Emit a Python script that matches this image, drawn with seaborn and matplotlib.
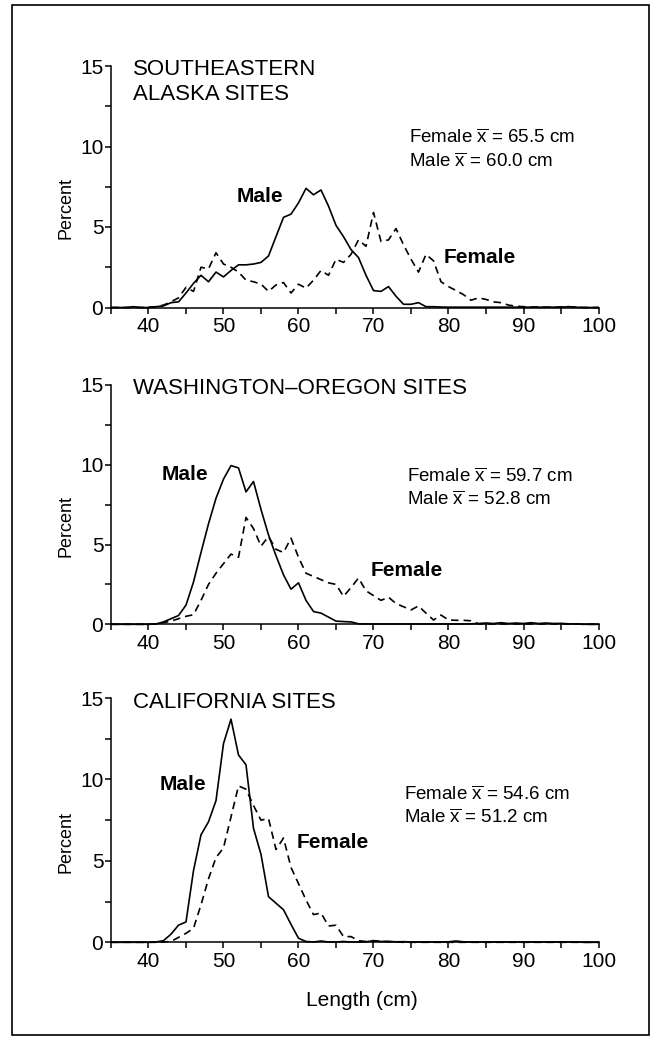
import numpy as np
import pandas as pd
import seaborn as sns
import matplotlib
matplotlib.use("Agg")
import matplotlib.pyplot as plt
from matplotlib.patches import Rectangle

# ---------------- data (percent per 1-cm length class, 35..100 cm) ----------------
lengths_cm = np.arange(35, 101)

se_alaska_male = [
    0, 0, 0, 0.05, 0,
    0, 0.05, 0.1, 0.3, 0.35, 0.9, 1.5, 2.0, 1.6, 2.2,
    1.9, 2.3, 2.65, 2.65, 2.7, 2.8, 3.2, 4.4, 5.6, 5.8,
    6.5, 7.4, 7.0, 7.3, 6.3, 5.1, 4.4, 3.6, 3.1, 2.0,
    1.05, 1.0, 1.3, 0.7, 0.2, 0.2, 0.3, 0.05, 0.05, 0.03,
    0.02, 0.02, 0.02, 0.02, 0.02, 0.02, 0.02, 0.02, 0.02, 0.02,
    0.02, 0.02, 0.02, 0.02, 0.02, 0.02, 0.05, 0.02, 0, 0,
    0]
se_alaska_female = [
    0, 0, 0, 0, 0,
    0.02, 0.05, 0.15, 0.35, 0.6, 1.25, 1.0, 2.5, 2.4, 3.4,
    2.7, 2.5, 2.2, 1.7, 1.6, 1.45, 1.0, 1.4, 1.55, 0.9,
    1.45, 1.2, 1.7, 2.3, 2.0, 3.0, 2.8, 3.3, 4.2, 3.8,
    5.9, 4.1, 4.2, 4.9, 3.9, 3.0, 2.2, 3.3, 2.9, 1.6,
    1.3, 1.05, 0.8, 0.45, 0.6, 0.5, 0.35, 0.3, 0.15, 0.08,
    0.05, 0.03, 0.03, 0.02, 0.02, 0.03, 0.05, 0.02, 0, 0,
    0]

wa_or_male = [
    0, 0, 0, 0, 0,
    0, 0.02, 0.15, 0.35, 0.55, 1.2, 2.65, 4.5, 6.3, 7.9,
    9.1, 9.95, 9.8, 8.3, 8.95, 7.2, 5.6, 4.3, 3.1, 2.2,
    2.6, 1.5, 0.8, 0.7, 0.45, 0.2, 0.17, 0.15, 0.03, 0.02,
    0.02, 0.02, 0.02, 0.02, 0.02, 0.02, 0.02, 0.02, 0.02, 0.02,
    0.02, 0.02, 0.02, 0.03, 0.05, 0.08, 0.05, 0.1, 0.05, 0.08,
    0.05, 0.1, 0.05, 0.08, 0.05, 0.06, 0.03, 0.02, 0, 0,
    0]
wa_or_female = [
    0, 0, 0, 0, 0,
    0, 0.02, 0.1, 0.2, 0.35, 0.5, 0.6, 1.5, 2.5, 3.2,
    3.8, 4.4, 4.2, 6.7, 6.0, 4.9, 5.5, 4.7, 4.5, 5.4,
    4.2, 3.2, 3.0, 2.8, 2.6, 2.5, 1.75, 2.3, 2.9, 2.1,
    1.8, 1.5, 1.7, 1.3, 1.1, 0.9, 1.15, 0.7, 0.27, 0.58,
    0.27, 0.25, 0.25, 0.22, 0.03, 0.02, 0.02, 0.02, 0.02, 0.02,
    0.02, 0.02, 0.02, 0.02, 0.02, 0.02, 0.02, 0.02, 0, 0,
    0]

california_male = [
    0, 0, 0, 0, 0,
    0, 0.02, 0.1, 0.5, 1.05, 1.25, 4.4, 6.6, 7.4, 8.7,
    12.2, 13.7, 11.5, 10.9, 7.0, 5.4, 2.8, 2.4, 2.0, 1.1,
    0.25, 0.05, 0.02, 0.08, 0.02, 0.02, 0.05, 0.02, 0.02, 0.03,
    0.1, 0.05, 0.06, 0.03, 0.04, 0.02, 0.02, 0.02, 0.02, 0.02,
    0.03, 0.08, 0.03, 0.02, 0.02, 0.02, 0.02, 0.02, 0.02, 0.02,
    0.02, 0.02, 0.02, 0.02, 0.02, 0.02, 0.02, 0.02, 0, 0,
    0]
california_female = [
    0, 0, 0, 0, 0,
    0, 0, 0.02, 0.05, 0.3, 0.55, 0.86, 2.3, 3.9, 5.2,
    5.8, 7.7, 9.6, 9.4, 8.4, 7.5, 7.6, 5.7, 6.4, 4.6,
    3.6, 2.6, 1.7, 1.8, 1.0, 1.05, 0.35, 0.35, 0.1, 0.05,
    0.1, 0.05, 0.03, 0.02, 0, 0, 0, 0, 0, 0,
    0, 0, 0, 0, 0, 0, 0, 0, 0, 0,
    0, 0, 0, 0, 0, 0, 0, 0, 0, 0,
    0]

panel_titles = [["SOUTHEASTERN", "ALASKA SITES"],
                ["WASHINGTON\u2013OREGON SITES"],
                ["CALIFORNIA SITES"]]
female_means = ["65.5", "59.7", "54.6"]
male_means = ["60.0", "52.8", "51.2"]
male_series = [se_alaska_male, wa_or_male, california_male]
female_series = [se_alaska_female, wa_or_female, california_female]

x_ticks = list(range(35, 101, 5))
x_ticklabels = ["" if v % 10 else str(v) for v in x_ticks]
y_ticks = [0, 2.5, 5, 7.5, 10, 12.5, 15]
y_ticklabels = ["0", "", "5", "", "10", "", "15"]

# label positions (data coords) for "Male"/"Female" curve labels
male_label_pos = [(54.9, 6.9), (44.9, 9.4), (44.6, 9.7)]
female_label_pos = [(84.2, 3.1), (74.5, 3.4), (64.6, 6.15)]
annot_x = [74.7, 74.5, 74.1]
annot_y = [(10.2, 8.73), (8.93, 7.5), (8.74, 7.33)]

# ---------------- style ----------------
sns.set_theme(style="ticks")
plt.rcParams["font.family"] = ["Liberation Sans", "DejaVu Sans"]
plt.rcParams["mathtext.fontset"] = "custom"
plt.rcParams["mathtext.rm"] = "Liberation Sans"
plt.rcParams["mathtext.it"] = "Liberation Sans:italic"
plt.rcParams["mathtext.bf"] = "Liberation Sans:bold"

fig = plt.figure(figsize=(6.58, 10.44), dpi=100)
W, H = 658.0, 1044.0
left_px, right_px = 111.0, 598.5
panels_px = [(66.0, 307.5), (385.0, 624.3), (698.0, 942.3)]  # (top, bottom)

axes = []
for (top, bot) in panels_px:
    ax = fig.add_axes([left_px / W, 1 - bot / H, (right_px - left_px) / W, (bot - top) / H])
    axes.append(ax)

lw = 1.2
for i, ax in enumerate(axes):
    df = pd.DataFrame({"length": lengths_cm,
                       "male": male_series[i],
                       "female": female_series[i]})
    sns.lineplot(data=df, x="length", y="male", ax=ax, color="black",
                 linewidth=lw, linestyle="-", clip_on=False, zorder=3)
    sns.lineplot(data=df, x="length", y="female", ax=ax, color="black",
                 linewidth=lw, linestyle=(0, (4.5, 3)), clip_on=False, zorder=3)

    ax.set_xlim(35, 100)
    ax.set_ylim(0, 15)
    ax.set_xticks(x_ticks)
    ax.set_xticklabels(x_ticklabels)
    ax.set_yticks(y_ticks)
    ax.set_yticklabels(y_ticklabels)
    ax.tick_params(axis="x", direction="out", length=4, width=1.1, pad=3,
                   labelsize=15, colors="black")
    ax.tick_params(axis="y", direction="out", length=4, width=1.1, pad=1.5,
                   labelsize=15, colors="black")
    sns.despine(ax=ax)
    for s in ("left", "bottom"):
        ax.spines[s].set_linewidth(1.1)
        ax.spines[s].set_color("black")
    ax.set_facecolor("white")

    ax.set_ylabel("Percent", fontsize=13, color="black")
    ax.yaxis.set_label_coords(-0.075, 0.41)
    if i < 2:
        ax.set_xlabel("")
    else:
        ax.set_xlabel("Length (cm)", fontsize=15, color="black")
        ax.xaxis.set_label_coords(0.515, -0.2)

    # panel title
    ty = 14.41
    for line in panel_titles[i]:
        ax.text(37.9, ty, line, fontsize=16, va="baseline", ha="left", color="black")
        ty -= 25 / 16.1

    # mean annotations
    ax.text(annot_x[i], annot_y[i][0],
            "Female $\\overline{\\mathrm{x}}$ = " + female_means[i] + " cm",
            fontsize=13.5, va="baseline", ha="left", color="black")
    ax.text(annot_x[i], annot_y[i][1],
            "Male $\\overline{\\mathrm{x}}$ = " + male_means[i] + " cm",
            fontsize=13.5, va="baseline", ha="left", color="black")

    # curve labels
    ax.text(*male_label_pos[i], "Male", fontsize=15, fontweight="bold",
            ha="center", va="center", color="black")
    ax.text(*female_label_pos[i], "Female", fontsize=15, fontweight="bold",
            ha="center", va="center", color="black")

# outer frame
fig.patches.append(Rectangle((12 / W, 1 - 1035 / H), (649 - 12) / W, (1035 - 5) / H,
                             transform=fig.transFigure, fill=False,
                             edgecolor="black", linewidth=1.2))

fig.savefig("out.png", dpi=100, facecolor="white")
